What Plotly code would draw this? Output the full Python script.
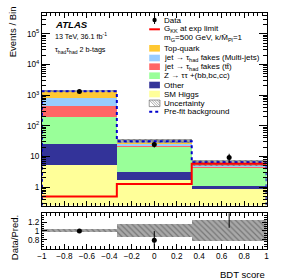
import numpy as np
import plotly.graph_objects as go

# ---------------- data ----------------
bin_edges = [-1.0, -1/3, 1/3, 1.0]
sm_higgs = [5.3, 1.63, 0.87]
other = [20.5, 1.42, 0.19]
ztautau = [165.0, 17.0, 3.05]
fakes_ttbar = [246.0, 2.7, 0.5]
fakes_multijet = [326.0, 2.7, 0.4]
top_quark = [558.0, 5.3, 1.17]
data = [1321.0, 24.5, 9.2]
data_err = [36.0, 5.0, 3.0]
signal = [0.49, 1.25, 5.73]
prefit = [1335.0, 31.5, 6.4]
unc_rel = [0.035, 0.155, 0.23]
ratio = [1.0, 0.785, 1.49]
ratio_err = [0.03, 0.21, 0.42]

y_tickvals = [1, 10, 100, 1000, 1e4, 1e5]
y_ticktext = ["1", "10", "10<sup>2</sup>", "10<sup>3</sup>", "10<sup>4</sup>", "10<sup>5</sup>"]
x_tickvals = [-1, -0.8, -0.6, -0.4, -0.2, 0, 0.2, 0.4, 0.6, 0.8, 1]
x_ticktext = ["\u22121", "\u22120.8", "\u22120.6", "\u22120.4", "\u22120.2", "0", "0.2", "0.4", "0.6", "0.8", "1"]
r_tickvals = [0.8, 1.0, 1.2]
r_ticktext = ["0.8", "1", "1.2"]

W, H = 291, 279
FONT = "Liberation Sans"

edges = np.array(bin_edges)
centers = 0.5 * (edges[:-1] + edges[1:])
widths = edges[1:] - edges[:-1]

layers = [
    ("SM Higgs", sm_higgs, "#ffff99"),
    ("Other", other, "#333399"),
    ("Z", ztautau, "#99ff99"),
    ("ttbar fakes", fakes_ttbar, "#ff6666"),
    ("MJ fakes", fakes_multijet, "#99ccff"),
    ("Top", top_quark, "#ffc832"),
]

fig = go.Figure()
base = np.zeros(3)
for name, vals, col in layers:
    v = np.array(vals)
    fig.add_trace(go.Bar(x=centers, y=v, base=base.copy(), width=widths,
                         marker=dict(color=col, line=dict(width=0)),
                         xaxis="x", yaxis="y", showlegend=False, name=name))
    base = base + v
total = base

HATCH = "#a8a8a8"
# uncertainty band (main)
u = np.array(unc_rel)
fig.add_trace(go.Bar(x=centers, y=2 * u * total, base=total * (1 - u), width=widths,
                     marker=dict(color=HATCH, line=dict(width=0),
                                 pattern=dict(shape="\\", size=4, solidity=0.3)),
                     xaxis="x", yaxis="y", showlegend=False))

# prefit dotted
px_ = [edges[0]] + list(edges) + [edges[-1]]
py_ = [0.1] + list(prefit) + [prefit[-1], 0.1]
fig.add_trace(go.Scatter(x=px_, y=py_, mode="lines", line=dict(color="#0000cc", width=2, dash="dot", shape="hv"),
                         xaxis="x", yaxis="y", showlegend=False))
# signal
fig.add_trace(go.Scatter(x=list(edges), y=list(signal) + [signal[-1]], mode="lines",
                         line=dict(color="#ff0000", width=2, shape="hv"),
                         xaxis="x", yaxis="y", showlegend=False))
# data
fig.add_trace(go.Scatter(x=centers, y=data, mode="markers",
                         marker=dict(color="black", size=5),
                         error_y=dict(type="data", array=data_err, width=0, thickness=1, color="black"),
                         xaxis="x", yaxis="y", showlegend=False))

# ratio band
fig.add_trace(go.Bar(x=centers, y=2 * u, base=1 - u, width=widths,
                     marker=dict(color=HATCH, line=dict(width=0),
                                 pattern=dict(shape="\\", size=4, solidity=0.3)),
                     xaxis="x2", yaxis="y2", showlegend=False))
fig.add_trace(go.Scatter(x=centers, y=ratio, mode="markers",
                         marker=dict(color="black", size=5),
                         error_y=dict(type="data", array=ratio_err, width=0, thickness=1, color="black"),
                         xaxis="x2", yaxis="y2", showlegend=False))

def P(x, y):
    return x / W, 1 - y / H

xd = [38 / W, 269 / W]
main_dom = [1 - 205.5 / H, 1 - 13.3 / H]
rat_dom = [1 - 248.5 / H, 1 - 213.3 / H]

axis_common = dict(showline=True, linecolor="black", linewidth=1, mirror="allticks",
                   ticks="inside", tickcolor="black", showgrid=False, zeroline=False,
                   tickfont=dict(family=FONT, size=8.2, color="black"))

fig.update_layout(
    width=W, height=H, margin=dict(l=0, r=0, t=0, b=0),
    paper_bgcolor="white", plot_bgcolor="white", barmode="overlay", bargap=0,
    showlegend=False,
    xaxis=dict(domain=xd, anchor="y", range=[-1, 1], showticklabels=False,
               tickvals=x_tickvals, ticklen=5,
               minor=dict(dtick=0.04, tick0=-1, ticks="inside", ticklen=2.5, tickcolor="black"),
               **axis_common),
    yaxis=dict(domain=main_dom, anchor="x", type="log", range=[np.log10(0.25), np.log10(4.7e5)],
               tickvals=y_tickvals, ticktext=y_ticktext, ticklen=8,
               minor=dict(dtick="D1", ticks="inside", ticklen=4, tickcolor="black"),
               **axis_common),
    xaxis2=dict(domain=xd, anchor="y2", range=[-1, 1], tickvals=x_tickvals, ticktext=x_ticktext,
                ticklen=5, minor=dict(dtick=0.04, tick0=-1, ticks="inside", ticklen=2.5, tickcolor="black"),
                **axis_common),
    yaxis2=dict(domain=rat_dom, anchor="x2", range=[0.6, 1.4], tickvals=r_tickvals, ticktext=r_ticktext,
                ticklen=5, minor=dict(dtick=0.05, tick0=0.6, ticks="inside", ticklen=2.5, tickcolor="black"),
                **axis_common),
)

ann = []
def text(x, y, s, size=8.3, xanchor="left", yanchor="middle", angle=0, **kw):
    X, Y = P(x, y)
    ann.append(dict(x=X, y=Y, xref="paper", yref="paper", text=s, showarrow=False,
                    xanchor=xanchor, yanchor=yanchor, textangle=angle,
                    font=dict(family=FONT, size=size, color="black"), **kw))

text(49, 24, "<b><i>ATLAS</i></b>", size=9.6)
text(49, 36.5, "13 TeV, 36.1 fb<sup>-1</sup>", size=7.2)
text(49, 50, "\u03c4<sub>had</sub>\u03c4<sub>had</sub> 2 b-tags", size=7.2)
text(8, 4, "Events / Bin", size=9.5, xanchor="center", yanchor="top", angle=-90)
text(10, 213, "Data/Pred.", size=9.5, xanchor="center", yanchor="top", angle=-90)
text(269, 274, "BDT score", size=9.5, xanchor="right")

# legend
leg_labels = ["Data", "G<sub>KK</sub> at exp limit", "m<sub>G</sub>=500 GeV, k/M\u0304<sub>Pl</sub>=1",
              "Top-quark", "jet \u2192 \u03c4<sub>had</sub> fakes (Multi-jets)",
              "jet \u2192 \u03c4<sub>had</sub> fakes (t\u0074\u0304)", "Z \u2192 \u03c4\u03c4 +(bb,bc,cc)",
              "Other", "SM Higgs", "Uncertainty", "Pre-fit background"]
leg_y = [20, 29.3, 37.7, 48.3, 58.0, 66.7, 75.7, 85.0, 94.0, 103.3, 111.7]
for lab, yy in zip(leg_labels, leg_y):
    text(161.7, yy, lab, size=8.0)

shapes = []
def rect(x0, y0, x1, y1, fill, line=None):
    X0, Y0 = P(x0, y0); X1, Y1 = P(x1, y1)
    shapes.append(dict(type="rect", xref="paper", yref="paper", x0=X0, y0=Y0, x1=X1, y1=Y1,
                       fillcolor=fill, line=dict(width=0.6 if line else 0, color=line or fill)))
def line(x0, y0, x1, y1, color, width=1, dash="solid"):
    X0, Y0 = P(x0, y0); X1, Y1 = P(x1, y1)
    shapes.append(dict(type="line", xref="paper", yref="paper", x0=X0, y0=Y0, x1=X1, y1=Y1,
                       line=dict(color=color, width=width, dash=dash)))

sx0, sx1 = 148.3, 159.3
# data symbol
line(153.8, 16, 153.8, 24, "black", 1)
X0, Y0 = P(151.6, 17.8); X1, Y1 = P(156.0, 22.2)
shapes.append(dict(type="circle", xref="paper", yref="paper", x0=X0, y0=Y0, x1=X1, y1=Y1,
                   fillcolor="black", line=dict(width=0)))
line(sx0, 29.3, sx1, 29.3, "#ff0000", 2)
leg_cols = ["#ffc832", "#99ccff", "#ff6666", "#99ff99", "#333399", "#ffff99"]
for col, yy in zip(leg_cols, [48.3, 58.0, 66.7, 75.7, 85.0, 94.0]):
    rect(sx0, yy - 3.3, sx1, yy + 3.3, col)
# uncertainty symbol
rect(sx0, 100, sx1, 106.6, "rgba(0,0,0,0)", "#555555")
for k in range(5):
    xa = sx0 + k * 2.6
    line(xa, 100, min(xa + 6.6, sx1), 100 + (min(xa + 6.6, sx1) - xa), "#777777", 0.6)
line(sx0, 111.7, sx1, 111.7, "#0000cc", 2, "dot")

fig.update_layout(annotations=ann, shapes=shapes)

fig.write_html("out.html", config={"displayModeBar": False},
               post_script="document.body.style.margin='0';")
